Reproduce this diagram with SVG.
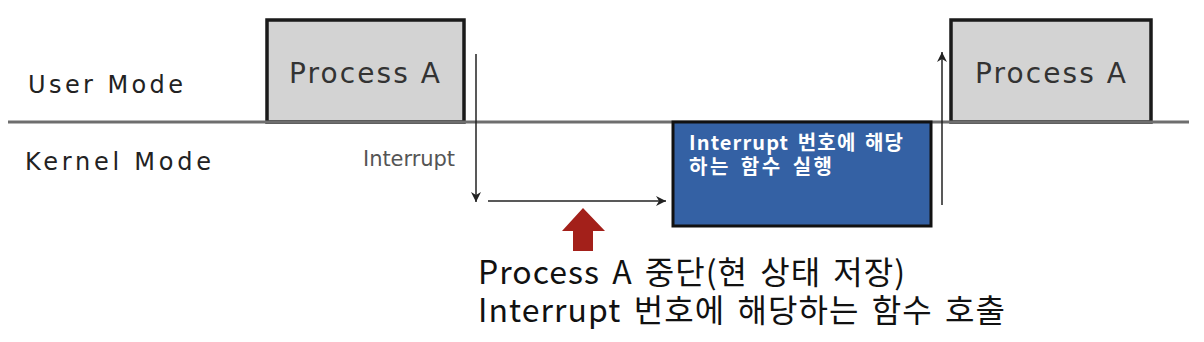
<svg xmlns="http://www.w3.org/2000/svg" width="1204" height="342" viewBox="0 0 1204 342">
<defs>
<style>
.lbl{font-family:"DejaVu Sans","Noto Sans CJK KR",sans-serif;fill:#222}
.proc{fill:#d3d3d3;stroke:#1a1a1a;stroke-width:3.5}
.ptxt{font-family:"DejaVu Sans","Noto Sans CJK KR",sans-serif;font-size:28px;fill:#333}
.conn{stroke:#222;stroke-width:1.5;fill:none}
.btxt{font-family:"Noto Sans CJK KR",sans-serif;font-size:20px;font-weight:bold;fill:#fff;word-spacing:3px}
.cap{font-family:"Noto Sans CJK KR",sans-serif;font-size:32px;fill:#111;word-spacing:4px}
</style>
<marker id="ah" viewBox="0 0 10 10" refX="10" refY="5" markerWidth="10" markerHeight="10" markerUnits="userSpaceOnUse" orient="auto">
<path d="M0,0 L10,5 L0,10 L3,5 Z" fill="#222"/>
</marker>
</defs>
<rect width="1204" height="342" fill="#fff"/>
<g id="modes">
<text class="lbl" x="28" y="93" font-size="24" textLength="155">User Mode</text>
<text class="lbl" x="25" y="170" font-size="24" textLength="186">Kernel Mode</text>
</g>
<g id="process-a-1">
<rect class="proc" x="267" y="20" width="197" height="102"/>
<text class="ptxt" x="289" y="83" textLength="151">Process A</text>
</g>
<g id="process-a-2">
<rect class="proc" x="951" y="20" width="200" height="102"/>
<text class="ptxt" x="975" y="83" textLength="151">Process A</text>
</g>
<line id="divider" x1="8" y1="122" x2="1189" y2="122" stroke="#6e6e6e" stroke-width="3"/>
<g id="handler">
<rect x="673" y="122" width="258" height="104" fill="#3461a4" stroke="#111" stroke-width="3"/>
<text class="btxt" x="689" y="150" textLength="214">Interrupt 번호에 해당</text>
<text class="btxt" x="689" y="174" textLength="143">하는 함수 실행</text>
</g>
<g id="connectors">
<line class="conn" x1="476" y1="54" x2="476" y2="202" marker-end="url(#ah)"/>
<line class="conn" x1="488" y1="201" x2="666" y2="201" marker-end="url(#ah)"/>
<line class="conn" x1="942" y1="205" x2="942" y2="52" marker-end="url(#ah)"/>
</g>
<text id="interrupt-label" x="363" y="166" font-family="'DejaVu Sans','Noto Sans CJK KR',sans-serif" font-size="21" fill="#555" textLength="92">Interrupt</text>
<g id="red-arrow">
<polygon points="583,208 605,231 593,231 593,251 573,251 573,231 562,231" fill="#a3201a"/>
</g>
<g id="caption">
<text class="cap" x="478" y="284" textLength="427">Process A 중단(현 상태 저장)</text>
<text class="cap" x="478" y="322" textLength="527">Interrupt 번호에 해당하는 함수 호출</text>
</g>
</svg>
